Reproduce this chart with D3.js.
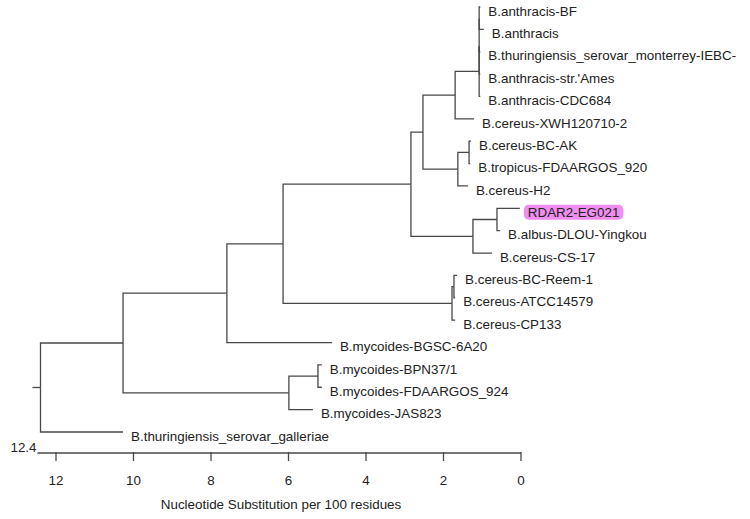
<!DOCTYPE html>
<html>
<head>
<meta charset="utf-8">
<script src="https://cdn.jsdelivr.net/npm/d3@7"></script>
<style>
  html, body { margin: 0; padding: 0; background: #ffffff; }
  svg { display: block; }
  text { font-family: "Liberation Sans", Arial, sans-serif; }
</style>
</head>
<body>
<script>
// ---- DATA ----
// tree rows in pre-order: node id, parent id, branch length (substitutions per 100 residues)
const nodeIds = [
  "root", "A", "B", "C", "D", "E", "F", "G", "G1", "G2",
  "B.anthracis-BF", "B.anthracis",
  "B.thuringiensis_serovar_monterrey-IEBC-", "B.anthracis-str.'Ames",
  "B.anthracis-CDC684", "B.cereus-XWH120710-2",
  "H", "I", "B.cereus-BC-AK", "B.tropicus-FDAARGOS_920", "B.cereus-H2",
  "K", "L", "RDAR2-EG021", "B.albus-DLOU-Yingkou", "B.cereus-CS-17",
  "R", "S", "B.cereus-BC-Reem-1", "B.cereus-ATCC14579", "B.cereus-CP133",
  "B.mycoides-BGSC-6A20",
  "M", "N", "B.mycoides-BPN37/1", "B.mycoides-FDAARGOS_924", "B.mycoides-JAS823",
  "B.thuringiensis_serovar_galleriae"
];
const nodeParents = [
  "", "root", "A", "B", "C", "D", "E", "F", "G", "G1",
  "G2", "G2",
  "G1", "G1",
  "G", "F",
  "E", "H", "I", "I", "H",
  "D", "K", "L", "L", "K",
  "C", "R", "S", "S", "R",
  "B",
  "A", "M", "N", "N", "M",
  "root"
];
const branchLengths = [
  0, 2.13, 2.68, 1.45, 3.30, 0.31, 0.83, 0.62, 0, 0,
  0.03, 0.12,
  0.03, 0.03,
  0.03, 0.49,
  0.90, 0.29, 0.05, 0.03, 0.26,
  1.60, 0.62, 0.59, 0.08, 0.49,
  4.36, 0.05, 0.08, 0.03, 0.08,
  2.71,
  4.28, 0.75, 0.10, 0.10, 0.62,
  2.13
];
const highlighted = ["RDAR2-EG021"];
const axisTicks = [12, 10, 8, 6, 4, 2, 0];
const axisMax = 12.4;
const axisTitle = "Nucleotide Substitution per 100 residues";

// ---- BUILD ----
const rows = nodeIds.map((id, i) => ({ id, parent: nodeParents[i] || null, len: branchLengths[i] }));
const root = d3.stratify().id(d => d.id).parentId(d => d.parent)(rows);

root.eachBefore(n => { n.cum = n.parent ? n.parent.cum + n.data.len : 0; });
const leaves = root.leaves();
leaves.forEach((l, i) => l.idx = i);
root.eachAfter(n => {
  if (n.children) n.yi = (n.children[0].yi + n.children[n.children.length - 1].yi) / 2;
  else n.yi = n.idx;
});

const W = 750, H = 519;
const svg = d3.select("body").append("svg").attr("width", W).attr("height", H);

const xScale = d3.scaleLinear().domain([axisMax, 0]).range([40.5, 521]);
const yScale = d3.scaleLinear().domain([0, leaves.length - 1]).range([7, 432]);
const X = n => xScale(axisMax - n.cum);
const Y = n => yScale(n.yi);

const lineColor = "#484848";
const g = svg.append("g");

// branches
g.selectAll("path.branch")
  .data(root.descendants().filter(n => n.parent))
  .join("path")
  .attr("class", "branch")
  .attr("fill", "none")
  .attr("stroke", lineColor)
  .attr("stroke-width", 1.3)
  .attr("d", n => `M${X(n.parent)},${Y(n.parent)}V${Y(n)}H${X(n)}`);

// root stem
g.append("path")
  .attr("fill", "none").attr("stroke", lineColor).attr("stroke-width", 1.3)
  .attr("d", `M${X(root) - 8},${Y(root)}H${X(root)}`);

// labels
const fs = 13.4;
const labelG = g.selectAll("g.leaf").data(leaves).join("g").attr("class", "leaf");
labelG.each(function (d) {
  const gg = d3.select(this);
  const tx = X(d) + 8, ty = Y(d) + 4;
  const t = gg.append("text")
    .attr("x", tx).attr("y", ty).attr("dy", "0.35em")
    .attr("font-size", fs).attr("fill", "#222")
    .text(d.id);
  if (highlighted.includes(d.id)) {
    const bb = t.node().getBBox();
    gg.insert("rect", "text")
      .attr("x", bb.x - 4).attr("y", ty - 7.5)
      .attr("width", bb.width + 8).attr("height", 15)
      .attr("rx", 5).attr("ry", 5)
      .attr("fill", "#f08ef0");
  }
});

// axis
const axisY = 453;
const ax = svg.append("g").attr("transform", `translate(0,${axisY})`);
ax.append("line")
  .attr("x1", xScale(axisMax) - 3).attr("x2", xScale(0))
  .attr("stroke", lineColor).attr("stroke-width", 1.3);
ax.selectAll("line.tick").data(axisTicks).join("line")
  .attr("class", "tick")
  .attr("x1", d => xScale(d)).attr("x2", d => xScale(d))
  .attr("y1", -1).attr("y2", 8)
  .attr("stroke", lineColor).attr("stroke-width", 1.3);
ax.selectAll("text.ticklab").data(axisTicks).join("text")
  .attr("class", "ticklab")
  .attr("x", d => xScale(d)).attr("y", 27).attr("dy", "0.35em")
  .attr("text-anchor", "middle").attr("font-size", fs).attr("fill", "#222")
  .text(d => d);
ax.append("text")
  .attr("x", xScale(axisMax) - 4).attr("y", -6).attr("dy", "0.35em")
  .attr("text-anchor", "end").attr("font-size", fs).attr("fill", "#222")
  .text(axisMax);
ax.append("text")
  .attr("x", 281).attr("y", 51).attr("dy", "0.35em")
  .attr("text-anchor", "middle").attr("font-size", fs).attr("fill", "#222")
  .text(axisTitle);
</script>
</body>
</html>
